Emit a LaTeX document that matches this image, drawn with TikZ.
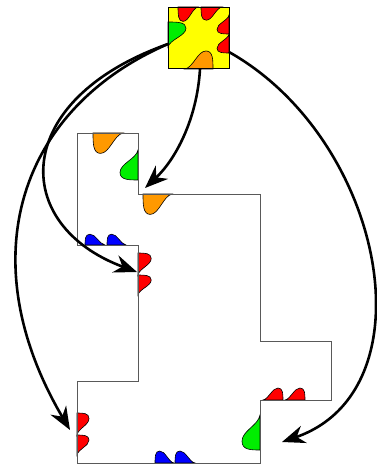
\documentclass[tikz,border=0pt]{standalone}
\usetikzlibrary{arrows.meta}
\definecolor{cred}{RGB}{255,0,0}
\definecolor{cgreen}{RGB}{0,238,0}
\definecolor{cblue}{RGB}{0,0,255}
\definecolor{corange}{RGB}{255,153,0}
\definecolor{cyellow}{RGB}{255,255,0}
\tikzset{
  finstyle/.style={draw=black, line width=0.6pt},
  outline/.style={draw=black!65, line width=0.9pt},
  tilebox/.style={draw=black, line width=0.8pt, fill=cyellow, minimum size=61pt, inner sep=0pt, outer sep=0pt},
  arr/.style={line width=2.6pt, -{Stealth[length=23pt,width=18pt]}}
}
% #1 colour, (#2,#3) gentle start, (#4,#5) edge vector to steep end, (#6,#7) protrusion vector
\newcommand\fin[7]{\filldraw[finstyle,fill=#1] (#2,#3) .. controls ({#2+0.3*(#4)+0.12*(#6)},{#3+0.3*(#5)+0.12*(#7)}) and ({#2+0.45*(#4)+1.2*(#6)},{#3+0.45*(#5)+1.2*(#7)}) .. ({#2+0.75*(#4)+1.2*(#6)},{#3+0.75*(#5)+1.2*(#7)}) .. controls ({#2+1.0*(#4)+1.2*(#6)},{#3+1.0*(#5)+1.2*(#7)}) and ({#2+(#4)+0.6*(#6)},{#3+(#5)+0.6*(#7)}) .. ({#2+(#4)},{#3+(#5)}) -- cycle;}
\begin{document}
\begin{tikzpicture}[x=1pt,y=-1pt]
\useasboundingbox (0,0) rectangle (376,465);
% bumps on the region boundary
\fin{corange}{123}{133}{-30}{0}{0}{17}
\fin{cgreen}{138}{150}{0}{30}{-15}{0}
\fin{corange}{172}{194}{-29}{0}{0}{17}
\fin{cblue}{105}{245}{-20}{0}{0}{-9}
\fin{cblue}{126}{245}{-19}{0}{0}{-9}
\fin{cred}{138}{275}{0}{-22}{11}{0}
\fin{cred}{138}{295}{0}{-20}{11}{0}
\fin{cred}{77}{435}{0}{-22}{10}{0}
\fin{cred}{77}{455}{0}{-20}{10}{0}
\fin{cblue}{174}{463}{-19}{0}{0}{-10}
\fin{cblue}{195}{463}{-20}{0}{0}{-10}
\fin{cred}{263}{400}{20}{0}{0}{-10}
\fin{cred}{285}{400}{20}{0}{0}{-10}
\fin{cgreen}{260}{415}{0}{35}{-15}{0}
% region outline
\draw[outline] (77,133) -- (138,133) -- (138,194) -- (260,194) -- (260,341) -- (331,341) -- (331,400) -- (260,400) -- (260,463) -- (77,463) -- (77,381) -- (138,381) -- (138,245) -- (77,245) -- cycle;
% the tile
\node[tilebox] (tile) at (198.5,38) {};
\fin{cred}{198}{7}{-20}{0}{0}{12}
\fin{cred}{222}{7}{-21}{0}{0}{11}
\fin{cred}{229}{15}{0}{19}{-10}{0}
\fin{cred}{229}{34}{0}{19}{-10}{0}
\fin{cgreen}{168}{47}{0}{-25}{15}{0}
\fin{corange}{185}{69}{28}{0}{0}{-15}
\draw[line width=0.8pt] (tile.north west) rectangle (tile.south east);
% arrow ends
\coordinate (s1) at (200,69);
\coordinate (s2) at (168,44);
\coordinate (s4) at (229,52);
\coordinate (t1) at (145,188);
\coordinate (t2) at (137,272);
\coordinate (t3) at (70,430);
\coordinate (t4) at (282,442);
\draw[arr] (s1) .. controls (197,120) and (175,160) .. (t1);
\draw[arr] (s2) .. controls (10,100) and (10,225) .. (t2);
\draw[arr] (s2) .. controls (18,109) and (-30,260) .. (t3);
\draw[arr] (s4) .. controls (385,140) and (432,390) .. (t4);
\end{tikzpicture}
\end{document}
